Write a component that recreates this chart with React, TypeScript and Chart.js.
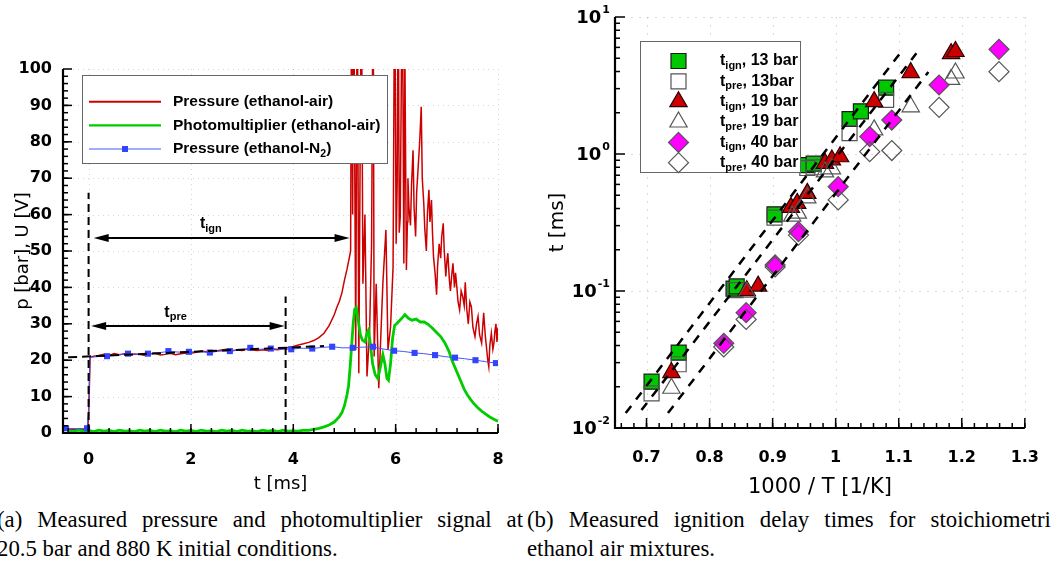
import React, { useEffect, useRef } from 'react';
import { Chart, registerables } from 'chart.js';

Chart.register(...registerables);

// ================= Panel (a): pressure trace & photomultiplier =================
// Pressure (ethanol-air) [ms, bar]
const airT = [-0.5, -0.3, -0.1, -0.02, 0.0, 0.03, 0.1, 0.2, 0.3, 0.4, 0.5, 0.6, 0.7, 0.8, 0.9, 1.0, 1.1, 1.2, 1.3, 1.4, 1.5, 1.6, 1.7, 1.8, 1.9, 2.0, 2.1, 2.2, 2.3, 2.4, 2.5, 2.6, 2.7, 2.8, 2.9, 3.0, 3.1, 3.2, 3.3, 3.4, 3.5, 3.6, 3.7, 3.8, 3.9, 4.0, 4.1, 4.2, 4.3, 4.4, 4.5, 4.6, 4.7, 4.8, 4.85, 4.9, 4.95, 5.0, 5.05, 5.1, 5.12, 5.14, 5.16, 5.18, 5.22, 5.25, 5.28, 5.33, 5.36, 5.4, 5.44, 5.49, 5.53, 5.56, 5.58, 5.62, 5.67, 5.71, 5.75, 5.81, 5.85, 5.9, 5.95, 5.98, 6.01, 6.03, 6.05, 6.07, 6.09, 6.13, 6.16, 6.18, 6.21, 6.23, 6.24, 6.26, 6.29, 6.31, 6.34, 6.36, 6.39, 6.41, 6.44, 6.47, 6.5, 6.52, 6.55, 6.57, 6.6, 6.62, 6.65, 6.67, 6.7, 6.72, 6.74, 6.77, 6.8, 6.82, 6.85, 6.88, 6.9, 6.93, 6.95, 6.98, 7.0, 7.02, 7.05, 7.07, 7.1, 7.12, 7.15, 7.17, 7.19, 7.22, 7.25, 7.28, 7.31, 7.34, 7.36, 7.39, 7.42, 7.45, 7.48, 7.51, 7.55, 7.58, 7.61, 7.64, 7.68, 7.7, 7.72, 7.75, 7.78, 7.8, 7.82, 7.84, 7.87, 7.9, 7.92, 7.94, 7.96, 7.98, 8.0];
const airP = [1.1, 1.0, 1.1, 1.0, 4.5, 20.8, 21.1, 21.3, 21.6, 21.3, 21.8, 21.5, 21.8, 21.4, 21.7, 21.6, 21.3, 21.7, 21.9, 21.4, 21.6, 21.9, 21.5, 21.8, 22.0, 21.9, 22.2, 22.5, 22.3, 22.6, 22.5, 22.8, 23.0, 22.6, 22.8, 22.7, 23.1, 22.8, 22.7, 22.9, 22.7, 23.0, 22.9, 23.2, 23.5, 23.8, 24.2, 24.5, 24.9, 25.4, 26.2, 27.4, 29.5, 32.5, 34.5, 36.2, 38.5, 42, 45, 48.5, 50, 130, 60, 130, 22.8, 130, 16.4, 130, 41, 60, 15.5, 27.4, 52, 130, 21, 41, 12.3, 26.5, 41, 55.8, 22.8, 29, 45.7, 130, 52, 68.6, 130, 55, 59.4, 130, 46.6, 105, 44.8, 58, 70, 62, 57, 68, 77.7, 62, 54, 66, 73, 80, 89.6, 70, 63, 56, 50, 60, 66.8, 58, 64, 55, 48.4, 44, 38, 46, 52, 48, 54, 57.6, 50, 43, 47, 49.4, 42, 39, 44, 46.6, 40, 44, 41, 36, 33.8, 39, 37.5, 35, 41.4, 34, 30, 36, 34.7, 29, 26.5, 30, 32, 27, 24.7, 29, 33, 27, 22.8, 20, 18.2, 24, 27.4, 23, 24.7, 28, 30, 25, 29];

// Photomultiplier (ethanol-air) [ms, V]
const pmtT = [-0.4, -0.3, -0.2, -0.1, 0, 0.1, 0.2, 0.3, 0.4, 0.5, 0.6, 0.7, 0.8, 0.9, 1.0, 1.1, 1.2, 1.3, 1.4, 1.5, 1.6, 1.7, 1.8, 1.9, 2.0, 2.1, 2.2, 2.3, 2.4, 2.5, 2.6, 2.7, 2.8, 2.9, 3.0, 3.1, 3.2, 3.3, 3.4, 3.5, 3.6, 3.7, 3.8, 3.9, 4.0, 4.1, 4.2, 4.3, 4.4, 4.5, 4.6, 4.7, 4.8, 4.9, 4.95, 5.0, 5.05, 5.08, 5.11, 5.14, 5.17, 5.2, 5.23, 5.27, 5.31, 5.35, 5.4, 5.44, 5.47, 5.51, 5.55, 5.6, 5.65, 5.7, 5.75, 5.79, 5.83, 5.86, 5.9, 5.94, 5.98, 6.05, 6.12, 6.18, 6.25, 6.32, 6.4, 6.48, 6.56, 6.64, 6.72, 6.8, 6.88, 6.96, 7.04, 7.1, 7.16, 7.22, 7.28, 7.34, 7.4, 7.46, 7.52, 7.6, 7.68, 7.76, 7.84, 7.92, 8.0];
const pmtU = [0.6, 0.4, 0.8, 0.5, 0.7, 0.4, 0.8, 0.5, 0.7, 0.4, 0.8, 0.5, 0.6, 0.4, 0.8, 0.5, 0.7, 0.4, 0.8, 0.5, 0.6, 0.4, 0.8, 0.5, 0.7, 0.4, 0.8, 0.5, 0.6, 0.4, 0.8, 0.5, 0.7, 0.4, 0.8, 0.5, 0.6, 0.4, 0.8, 0.5, 0.7, 0.4, 0.8, 0.5, 0.6, 0.5, 0.8, 0.7, 1.0, 1.3, 1.7, 2.2, 3.0, 4.5, 5.6, 7.5, 10.5, 13, 18, 24, 30, 34, 34.5, 31, 27, 25.5, 25, 27.5, 28.3, 24, 19, 16, 15, 18, 21.5, 19, 15, 14.5, 19, 26, 29.5, 30.5, 31.5, 32.5, 31.5, 31, 31.3, 30.5, 30.5, 29.8, 28.8, 27.6, 26.5, 24.8, 22.5, 20, 18, 16, 14, 12, 10.5, 9.3, 8.2, 7, 6, 5.2, 4.4, 3.8, 3.2];

// Pressure (ethanol-N2): trace and symbols
const n2LineT = [-0.5, -0.03, 0.0, 0.03, 0.2, 0.36, 0.5, 0.77, 1.0, 1.16, 1.4, 1.56, 1.8, 1.96, 2.2, 2.37, 2.55, 2.76, 3.0, 3.16, 3.35, 3.56, 3.75, 3.96, 4.15, 4.37, 4.55, 4.76, 4.95, 5.16, 5.35, 5.56, 5.75, 5.97, 6.15, 6.37, 6.55, 6.77, 6.95, 7.16, 7.35, 7.56, 7.75, 7.96];
const n2LineP = [1.2, 1.2, 6, 20.8, 21.0, 21.1, 21.4, 21.7, 21.6, 21.8, 22.1, 22.4, 22.2, 22.3, 22.3, 22.1, 22.5, 22.5, 22.9, 23.3, 23.0, 23.2, 23.0, 23.0, 23.3, 23.2, 23.5, 23.7, 23.4, 23.4, 23.6, 23.6, 23.1, 22.6, 22.4, 22.0, 21.8, 21.4, 21.0, 20.7, 20.4, 20.0, 19.6, 19.2];
const n2MarkT = [-0.44, -0.03, 0.36, 0.77, 1.16, 1.56, 1.96, 2.37, 2.76, 3.16, 3.56, 3.96, 4.37, 4.76, 5.16, 5.56, 5.97, 6.37, 6.77, 7.16, 7.56, 7.96];
const n2MarkP = [1.3, 1.3, 21.1, 21.8, 21.8, 22.5, 22.3, 22.1, 22.5, 23.4, 23.2, 23.0, 23.2, 23.7, 23.4, 23.7, 22.6, 22.0, 21.4, 20.7, 20.0, 19.2];

const aXTicks = [0, 2, 4, 6, 8];
const aYTicks = [0, 10, 20, 30, 40, 50, 60, 70, 80, 90, 100];

// guide lines (dashed)
const guide0T = [0, 0];
const guide0P = [0, 66];
const guidePreT = [3.85, 3.85];
const guidePreP = [0, 37.5];
const fitT = [-0.4, 4.6];
const fitP = [20.8, 23.9];

// double arrows tign / tpre
const arrowNames = ['ign', 'pre'];
const arrowFrom = [0.1, 0.05];
const arrowTo = [5.1, 3.83];
const arrowLevel = [53.6, 29.4];
const arrowLabelT = [2.39, 1.7];
const arrowLabelP = [57.4, 33.2];

const legendALabels: [string, boolean][][] = [
  [['Pressure (ethanol-air)', false]],
  [['Photomultiplier (ethanol-air)', false]],
  [['Pressure (ethanol-N', false], ['2', true], [')', false]],
];

// ================= Panel (b): ignition delay times =================
const ign13X = [0.708, 0.751, 0.838, 0.843, 0.903, 0.955, 0.965, 1.022, 1.040, 1.080];
const ign13Y = [0.0218, 0.0355, 0.104, 0.108, 0.363, 0.83, 0.85, 1.80, 2.05, 3.05];
const pre13X = [0.708, 0.751, 0.841, 0.903, 0.955, 0.965, 1.022, 1.080];
const pre13Y = [0.0179, 0.0292, 0.1016, 0.343, 0.79, 0.80, 1.42, 2.48];
const ign19X = [0.7395, 0.859, 0.877, 0.929, 0.939, 0.955, 0.983, 0.994, 1.007, 1.061, 1.119, 1.183, 1.190];
const ign19Y = [0.0254, 0.1005, 0.1086, 0.408, 0.436, 0.516, 0.855, 0.904, 0.955, 2.41, 3.93, 5.4, 5.6];
const pre19X = [0.7395, 0.859, 0.931, 0.940, 0.955, 0.983, 0.994, 1.061, 1.119, 1.183, 1.190];
const pre19Y = [0.0195, 0.098, 0.352, 0.37, 0.478, 0.74, 0.78, 1.50, 2.21, 3.5, 3.9];
const ign40X = [0.8225, 0.858, 0.904, 0.941, 1.004, 1.054, 1.089, 1.164, 1.259];
const ign40Y = [0.0415, 0.0695, 0.155, 0.271, 0.577, 1.34, 1.77, 3.19, 5.81];
const pre40X = [0.8225, 0.858, 0.904, 0.941, 1.004, 1.054, 1.089, 1.164, 1.259];
const pre40Y = [0.039, 0.062, 0.15, 0.256, 0.462, 1.04, 1.06, 2.19, 3.99];

const fitAX = [0.667, 1.102];
const fitAY = [0.01285, 5.43];
const fitBX = [0.692, 1.128];
const fitBY = [0.01352, 5.43];
const fitCX = [0.734, 1.147];
const fitCY = [0.01285, 3.97];

const bXTicks = [0.7, 0.8, 0.9, 1.0, 1.1, 1.2, 1.3];
const bXTickLabels = ['0.7', '0.8', '0.9', '1', '1.1', '1.2', '1.3'];
const bYTicks = [0.01, 0.1, 1, 10];
const bYExp = ['-2', '-1', '0', '1'];

const legendBSub = ['ign', 'pre', 'ign', 'pre', 'ign', 'pre'];
const legendBRest = [', 13 bar', ', 13bar', ', 19 bar', ', 19 bar', ', 40 bar', ', 40 bar'];

// marker styles for panel (b) (style only, no data)
const bStyles = [
  { shape: 'rect', fill: '#00c800', stroke: '#1a1a1a', r: 10.6 },
  { shape: 'rect', fill: 'rgba(0,0,0,0)', stroke: '#555555', r: 10.6 },
  { shape: 'triangle', fill: '#cc0000', stroke: '#2a0000', r: 10 },
  { shape: 'triangle', fill: 'rgba(0,0,0,0)', stroke: '#555555', r: 10 },
  { shape: 'rectRot', fill: '#ff00ff', stroke: '#555555', r: 10 },
  { shape: 'rectRot', fill: 'rgba(0,0,0,0)', stroke: '#555555', r: 10 },
];

// ================= helpers =================
const zip = (xs: number[], ys: number[]) => xs.map((x, i) => ({ x, y: ys[i] }));

function seg(ctx: CanvasRenderingContext2D, x1: number, y1: number, x2: number, y2: number) {
  ctx.beginPath();
  ctx.moveTo(x1, y1);
  ctx.lineTo(x2, y2);
  ctx.stroke();
}

const SANS = '"Liberation Sans", Arial, sans-serif';

function drawRich(ctx: CanvasRenderingContext2D, parts: [string, boolean][], x: number, y: number, size: number, subSize: number, align: 'left' | 'center') {
  let w = 0;
  for (const [t, sub] of parts) {
    ctx.font = `bold ${sub ? subSize : size}px ${SANS}`;
    w += ctx.measureText(t).width;
  }
  let cx = align === 'center' ? x - w / 2 : x;
  ctx.textAlign = 'left';
  ctx.textBaseline = 'middle';
  for (const [t, sub] of parts) {
    ctx.font = `bold ${sub ? subSize : size}px ${SANS}`;
    ctx.fillText(t, cx, sub ? y + 5 : y);
    cx += ctx.measureText(t).width;
  }
}

function drawMarker(ctx: CanvasRenderingContext2D, shape: string, cx: number, cy: number, r: number, fill: string, stroke: string) {
  ctx.beginPath();
  if (shape === 'rect') {
    const s = r * Math.SQRT1_2;
    ctx.rect(cx - s, cy - s, 2 * s, 2 * s);
  } else if (shape === 'triangle') {
    ctx.moveTo(cx, cy - r);
    ctx.lineTo(cx + r * 0.866, cy + r * 0.5);
    ctx.lineTo(cx - r * 0.866, cy + r * 0.5);
    ctx.closePath();
  } else {
    ctx.moveTo(cx, cy - r);
    ctx.lineTo(cx + r, cy);
    ctx.lineTo(cx, cy + r);
    ctx.lineTo(cx - r, cy);
    ctx.closePath();
  }
  ctx.fillStyle = fill;
  ctx.fill();
  ctx.strokeStyle = stroke;
  ctx.lineWidth = 1.2;
  ctx.stroke();
}

// ================= panel (a) plugin =================
const panelAPlugin = {
  id: 'panelA',
  beforeDatasetsDraw(chart: any) {
    const { ctx, chartArea: a, scales } = chart;
    const xs = scales.x, ys = scales.y;
    ctx.save();
    ctx.strokeStyle = 'rgba(0,0,0,0.16)';
    ctx.lineWidth = 1;
    ctx.setLineDash([1, 4]);
    for (const v of aYTicks) {
      if (v === 0) continue;
      const py = Math.round(ys.getPixelForValue(v)) + 0.5;
      seg(ctx, a.left, py, a.right, py);
    }
    for (const v of aXTicks) {
      const px = Math.round(xs.getPixelForValue(v)) + 0.5;
      seg(ctx, px, a.top, px, a.bottom);
    }
    ctx.restore();
  },
  afterDatasetsDraw(chart: any) {
    const { ctx, scales } = chart;
    const xs = scales.x, ys = scales.y;
    ctx.save();
    ctx.strokeStyle = '#000';
    ctx.fillStyle = '#000';
    ctx.lineWidth = 2;
    for (let i = 0; i < arrowNames.length; i++) {
      const x1 = xs.getPixelForValue(arrowFrom[i]);
      const x2 = xs.getPixelForValue(arrowTo[i]);
      const py = ys.getPixelForValue(arrowLevel[i]);
      seg(ctx, x1 + 8, py, x2 - 8, py);
      ctx.beginPath();
      ctx.moveTo(x1, py);
      ctx.lineTo(x1 + 15, py - 4);
      ctx.lineTo(x1 + 15, py + 4);
      ctx.closePath();
      ctx.fill();
      ctx.beginPath();
      ctx.moveTo(x2, py);
      ctx.lineTo(x2 - 15, py - 4);
      ctx.lineTo(x2 - 15, py + 4);
      ctx.closePath();
      ctx.fill();
      drawRich(ctx, [['t', false], [arrowNames[i], true]], xs.getPixelForValue(arrowLabelT[i]), ys.getPixelForValue(arrowLabelP[i]), 16, 11, 'center');
    }
    ctx.restore();
  },
  afterDraw(chart: any) {
    const { ctx, chartArea: a, scales } = chart;
    const xs = scales.x, ys = scales.y;
    ctx.save();
    ctx.strokeStyle = '#000';
    ctx.lineWidth = 1.5;
    for (let v = -0.4; v <= 8.001; v += 0.4) {
      const px = xs.getPixelForValue(v);
      seg(ctx, px, a.bottom, px, a.bottom - 5);
    }
    for (const v of aXTicks) {
      const px = xs.getPixelForValue(v);
      seg(ctx, px, a.bottom, px, a.bottom - 9);
    }
    for (let v = 2; v < 100; v += 2) {
      const py = ys.getPixelForValue(v);
      seg(ctx, a.left, py, a.left + 5, py);
    }
    for (const v of aYTicks) {
      const py = ys.getPixelForValue(v);
      seg(ctx, a.left, py, a.left + 9, py);
    }
    ctx.lineWidth = 2.2;
    ctx.beginPath();
    ctx.moveTo(a.left, a.top);
    ctx.lineTo(a.left, a.bottom);
    ctx.lineTo(a.right, a.bottom);
    ctx.stroke();

    // legend box
    const L = 82, T = 75, W = 305, H = 88;
    ctx.fillStyle = '#fff';
    ctx.fillRect(L, T, W, H);
    ctx.strokeStyle = '#666';
    ctx.lineWidth = 1;
    ctx.strokeRect(L + 0.5, T + 0.5, W, H);
    const rowsY = [101.7, 125.3, 149];
    const colors = ['#cc0000', '#00cc00', '#4455ff'];
    const widths = [2, 2.2, 1];
    for (let i = 0; i < 3; i++) {
      ctx.strokeStyle = colors[i];
      ctx.lineWidth = widths[i];
      seg(ctx, 89, rowsY[i], 161, rowsY[i]);
      if (i === 2) {
        ctx.fillStyle = '#3344ff';
        ctx.fillRect(122, rowsY[i] - 3, 6, 6);
      }
      ctx.fillStyle = '#000';
      drawRich(ctx, legendALabels[i], 173, rowsY[i], 15.5, 10.5, 'left');
    }
    ctx.restore();
  },
};

// ================= panel (b) plugin =================
const panelBPlugin = {
  id: 'panelB',
  beforeDatasetsDraw(chart: any) {
    const { ctx, chartArea: a, scales } = chart;
    const xs = scales.x, ys = scales.y;
    ctx.save();
    ctx.strokeStyle = 'rgba(0,0,0,0.14)';
    ctx.lineWidth = 1;
    ctx.setLineDash([2, 6]);
    for (const v of bXTicks) {
      const px = Math.round(xs.getPixelForValue(v)) + 0.5;
      seg(ctx, px, a.top, px, a.bottom);
    }
    for (const v of bYTicks) {
      const py = Math.round(ys.getPixelForValue(v)) + 0.5;
      seg(ctx, a.left, py, a.right, py);
    }
    ctx.restore();
  },
  afterDraw(chart: any) {
    const { ctx, chartArea: a, scales } = chart;
    const xs = scales.x, ys = scales.y;
    ctx.save();
    ctx.strokeStyle = '#000';
    ctx.lineWidth = 1.5;
    for (let v = 0.66; v <= 1.3001; v += 0.02) {
      const px = xs.getPixelForValue(v);
      seg(ctx, px, a.bottom, px, a.bottom - 5);
    }
    for (const v of bXTicks) {
      const px = xs.getPixelForValue(v);
      seg(ctx, px, a.bottom, px, a.bottom - 10);
    }
    for (const d of [0.01, 0.1, 1]) {
      for (let k = 2; k <= 9; k++) {
        const py = ys.getPixelForValue(d * k);
        seg(ctx, a.left, py, a.left + 5, py);
      }
    }
    for (const v of bYTicks) {
      const py = ys.getPixelForValue(v);
      seg(ctx, a.left, py, a.left + 10, py);
    }
    ctx.lineWidth = 2.2;
    ctx.beginPath();
    ctx.moveTo(a.left, a.top);
    ctx.lineTo(a.left, a.bottom);
    ctx.lineTo(a.right, a.bottom);
    ctx.stroke();

    // y tick labels 10^n
    ctx.fillStyle = '#000';
    ctx.textAlign = 'right';
    ctx.textBaseline = 'middle';
    for (let i = 0; i < bYTicks.length; i++) {
      const py = ys.getPixelForValue(bYTicks[i]);
      ctx.font = 'bold 11px "DejaVu Sans"';
      const sw = ctx.measureText(bYExp[i]).width;
      ctx.fillText(bYExp[i], a.left - 5, py - 7);
      ctx.font = 'bold 18px "DejaVu Sans"';
      ctx.fillText('10', a.left - 6 - sw, py + 1);
    }

    // legend
    const L = 120, T = 41, W = 160, H = 131;
    ctx.fillStyle = '#fff';
    ctx.fillRect(L, T, W, H);
    ctx.strokeStyle = '#666';
    ctx.lineWidth = 1;
    ctx.strokeRect(L + 0.5, T + 0.5, W, H);
    const rowsY = [61, 81.4, 101.7, 122, 142.4, 162.7];
    for (let i = 0; i < 6; i++) {
      const s = bStyles[i];
      drawMarker(ctx, s.shape, 158.5, rowsY[i], s.r, s.fill === 'rgba(0,0,0,0)' ? '#fff' : s.fill, s.stroke);
      ctx.fillStyle = '#000';
      drawRich(ctx, [['t', false], [legendBSub[i], true], [legendBRest[i], false]], 200, rowsY[i], 16, 11, 'left');
    }
    ctx.restore();
  },
};

const lineDs = (data: any[], color: string, width: number, order: number, dash?: number[]) => ({
  data,
  showLine: true,
  borderColor: color,
  backgroundColor: color,
  borderWidth: width,
  borderDash: dash || [],
  pointRadius: 0,
  pointHoverRadius: 0,
  tension: 0,
  fill: false,
  order,
});

function makeChartA(canvas: HTMLCanvasElement) {
  return new Chart(canvas, {
    type: 'scatter',
    data: {
      datasets: [
        lineDs(zip(airT, airP), '#cc0000', 1.5, 6),
        lineDs(zip(pmtT, pmtU), '#00cc00', 2.8, 5),
        lineDs(zip(n2LineT, n2LineP), '#4455ff', 1, 4),
        {
          data: zip(n2MarkT, n2MarkP),
          showLine: false,
          pointStyle: 'rect',
          pointRadius: 4.3,
          pointBackgroundColor: '#3344ff',
          pointBorderColor: '#3344ff',
          pointBorderWidth: 0,
          order: 3,
        },
        lineDs(zip(guide0T, guide0P), '#000', 2, 1, [8, 5]),
        lineDs(zip(guidePreT, guidePreP), '#000', 2, 1, [8, 5]),
        lineDs(zip(fitT, fitP), '#000', 2, 1, [9, 5]),
      ] as any,
    },
    options: {
      responsive: false,
      animation: false,
      devicePixelRatio: 1,
      events: [],
      layout: { padding: { left: 13, right: 22, top: 69, bottom: 5 } },
      plugins: { legend: { display: false }, tooltip: { enabled: false } },
      scales: {
        x: {
          type: 'linear',
          min: -0.5,
          max: 8,
          afterBuildTicks: (s: any) => { s.ticks = aXTicks.map((v) => ({ value: v })); },
          afterFit: (s: any) => { s.height = 62; },
          grid: { display: false },
          border: { display: false },
          ticks: {
            autoSkip: false,
            maxRotation: 0,
            padding: 9,
            color: '#000',
            font: { family: 'DejaVu Sans', size: 16, weight: 'bold' },
            callback: (v: any) => String(v),
          },
          title: { display: true, text: 't [ms]', color: '#000', padding: 0, font: { family: 'DejaVu Sans', size: 18 } },
        },
        y: {
          type: 'linear',
          min: 0,
          max: 100,
          afterBuildTicks: (s: any) => { s.ticks = aYTicks.map((v) => ({ value: v })); },
          afterFit: (s: any) => { s.width = 50; },
          grid: { display: false },
          border: { display: false },
          ticks: {
            autoSkip: false,
            padding: 3,
            color: '#000',
            font: { family: 'DejaVu Sans', size: 16, weight: 'bold' },
            callback: (v: any) => String(v),
          },
          title: { display: true, text: 'p [bar], U [V]', color: '#000', padding: 0, font: { family: 'DejaVu Sans', size: 18 } },
        },
      },
    } as any,
    plugins: [panelAPlugin],
  });
}

function makeChartB(canvas: HTMLCanvasElement) {
  const series = [
    [ign13X, ign13Y],
    [pre13X, pre13Y],
    [ign19X, ign19Y],
    [pre19X, pre19Y],
    [ign40X, ign40Y],
    [pre40X, pre40Y],
  ];
  const markerSets = series.map(([xs, ys], i) => ({
    data: zip(xs, ys),
    showLine: false,
    pointStyle: bStyles[i].shape,
    pointRadius: bStyles[i].r,
    pointHoverRadius: bStyles[i].r,
    pointBackgroundColor: bStyles[i].fill,
    pointBorderColor: bStyles[i].stroke,
    pointBorderWidth: 1.2,
    order: 20 - i,
  }));
  return new Chart(canvas, {
    type: 'scatter',
    data: {
      datasets: [
        ...markerSets,
        lineDs(zip(fitAX, fitAY), '#000', 2.5, 0, [9, 8]),
        lineDs(zip(fitBX, fitBY), '#000', 2.5, 0, [9, 8]),
        lineDs(zip(fitCX, fitCY), '#000', 2.5, 0, [9, 8]),
      ] as any,
    },
    options: {
      responsive: false,
      animation: false,
      devicePixelRatio: 1,
      events: [],
      layout: { padding: { left: 26, right: 19, top: 17, bottom: 0 } },
      plugins: { legend: { display: false }, tooltip: { enabled: false } },
      scales: {
        x: {
          type: 'linear',
          min: 0.65,
          max: 1.3,
          afterBuildTicks: (s: any) => { s.ticks = bXTicks.map((v) => ({ value: v })); },
          afterFit: (s: any) => { s.height = 72; },
          grid: { display: false },
          border: { display: false },
          ticks: {
            autoSkip: false,
            maxRotation: 0,
            padding: 12,
            color: '#000',
            font: { family: 'DejaVu Sans', size: 16, weight: 'bold' },
            callback: (_v: any, i: number) => bXTickLabels[i],
          },
          title: { display: true, text: '1000 / T [1/K]', color: '#000', padding: 0, font: { family: 'DejaVu Sans', size: 21 } },
        },
        y: {
          type: 'logarithmic',
          min: 0.01,
          max: 10,
          afterBuildTicks: (s: any) => { s.ticks = bYTicks.map((v) => ({ value: v })); },
          afterFit: (s: any) => { s.width = 69; },
          grid: { display: false },
          border: { display: false },
          ticks: { display: false },
          title: { display: true, text: 't [ms]', color: '#000', padding: 0, font: { family: 'DejaVu Sans', size: 20 } },
        },
      },
    } as any,
    plugins: [panelBPlugin],
  });
}

const captionFont: React.CSSProperties = {
  position: 'absolute',
  top: 505,
  fontFamily: '"Liberation Serif", "Times New Roman", serif',
  fontSize: 22.8,
  lineHeight: '29px',
  color: '#000',
  whiteSpace: 'nowrap',
};

export default function App() {
  const leftRef = useRef<HTMLCanvasElement>(null);
  const rightRef = useRef<HTMLCanvasElement>(null);

  useEffect(() => {
    const a = makeChartA(leftRef.current!);
    const b = makeChartB(rightRef.current!);
    return () => {
      a.destroy();
      b.destroy();
    };
  }, []);

  return (
    <div style={{ position: 'absolute', left: 0, top: 0, width: 1051, height: 566, overflow: 'hidden', background: '#fff' }}>
      <canvas ref={leftRef} width={520} height={500} style={{ position: 'absolute', left: 0, top: 0, width: 520, height: 500 }} />
      <canvas ref={rightRef} width={531} height={500} style={{ position: 'absolute', left: 520, top: 0, width: 531, height: 500 }} />
      <div style={{ ...captionFont, left: -3, width: 526 }}>
        <div style={{ textAlign: 'justify', textAlignLast: 'justify' }}>(a) Measured pressure and photomultiplier signal at</div>
        <div>20.5 bar and 880 K initial conditions.</div>
      </div>
      <div style={{ ...captionFont, left: 527, width: 534 }}>
        <div style={{ textAlign: 'justify', textAlignLast: 'justify' }}>(b) Measured ignition delay times for stoichiometric</div>
        <div>ethanol air mixtures.</div>
      </div>
    </div>
  );
}
